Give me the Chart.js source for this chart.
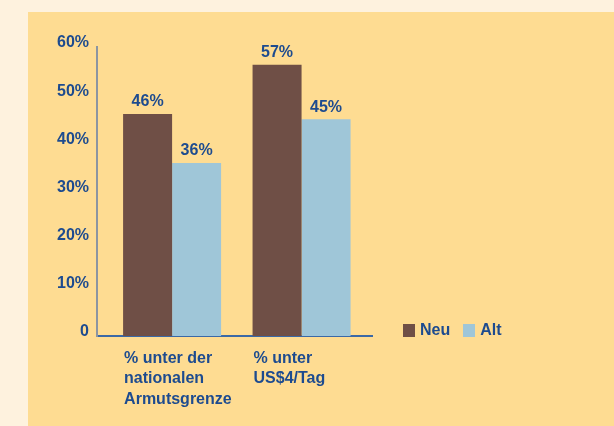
<!DOCTYPE html>
<html>
<head>
<meta charset="utf-8">
<script src="https://cdn.jsdelivr.net/npm/chart.js@4/dist/chart.umd.min.js"></script>
<style>
  html, body { margin: 0; padding: 0; background: #fef2de; }
  #wrap { position: relative; width: 614px; height: 426px; overflow: hidden; }
  #panel { position: absolute; left: 28px; top: 12px; right: 0; bottom: 0; background: #fedc92; }
  #myChart { position: absolute; left: 0; top: 0; }
  #legend { position: absolute; left: 403px; top: 321px; display: flex; }
  #legend span.item { display: flex; align-items: center; margin-right: 13px;
    font: bold 16px "Liberation Sans", sans-serif; color: #1d4b8f; }
  #legend span.box { display: inline-block; width: 12px; height: 13px; margin-right: 5px; }
</style>
</head>
<body>
<div id="wrap">
  <div id="panel"></div>
  <canvas id="myChart" width="614" height="426"></canvas>
  <div id="legend"></div>
</div>
<script>
var categories = [
    ['% unter der', 'nationalen', 'Armutsgrenze'],
    ['% unter', 'US$4/Tag']
];
var seriesNames = ['Neu', 'Alt'];
var neuValues = [46.1, 56.3];
var altValues = [35.9, 45.0];
var neuLabels = ['46%', '57%'];
var altLabels = ['36%', '45%'];
var yTicks = [0, 10, 20, 30, 40, 50, 60];

var textBlue = '#1d4b8f';
var fontFamily = '"Liberation Sans", sans-serif';

// draws the value above each bar
var valueLabels = {
    id: 'valueLabels',
    afterDatasetsDraw: function(chart) {
        var ctx = chart.ctx;
        ctx.save();
        ctx.font = 'bold 16px ' + fontFamily;
        ctx.fillStyle = textBlue;
        ctx.textAlign = 'center';
        ctx.textBaseline = 'bottom';
        chart.data.datasets.forEach(function(ds, i) {
            chart.getDatasetMeta(i).data.forEach(function(bar, j) {
                ctx.fillText(ds.valueText[j], bar.x, bar.y - 4);
            });
        });
        ctx.restore();
    }
};

var ctx = document.getElementById('myChart').getContext('2d');
var chart = new Chart(ctx, {
    type: 'bar',
    data: {
        labels: categories,
        datasets: [{
            label: seriesNames[0],
            backgroundColor: '#6f4f46',
            data: neuValues,
            valueText: neuLabels
        }, {
            label: seriesNames[1],
            backgroundColor: '#9fc6d8',
            data: altValues,
            valueText: altLabels
        }]
    },
    options: {
        responsive: false,
        animation: false,
        layout: {
            padding: { left: 0, top: 47, right: 242, bottom: 0 }
        },
        datasets: {
            bar: { categoryPercentage: 0.757, barPercentage: 1 }
        },
        scales: {
            x: {
                grid: { display: false },
                border: { display: true, color: '#3b69a6', width: 2 },
                // the groups sit a bit right of centre, axis runs on past the last one
                afterBuildTicks: function(scale) {
                    scale._startValue = -0.58;
                    scale._valueRange = 2.124;
                },
                ticks: {
                    color: textBlue,
                    font: { family: fontFamily, size: 16, weight: 'bold', lineHeight: 1.28 },
                    align: 'start',
                    labelOffset: -48,
                    padding: 4,
                    maxRotation: 0,
                    autoSkip: false
                },
                afterFit: function(scale) { scale.height = 90; }
            },
            y: {
                min: 0,
                max: 60,
                grid: { display: false },
                border: { display: true, color: '#8c95a1', width: 2 },
                afterBuildTicks: function(scale) {
                    scale.ticks = yTicks.map(function(v) { return { value: v }; });
                },
                ticks: {
                    color: textBlue,
                    font: { family: fontFamily, size: 16, weight: 'bold' },
                    padding: 0,
                    labelOffset: -4,
                    callback: function(value) { return value === 0 ? '0' : value + '%'; }
                },
                afterFit: function(scale) { scale.width = 97; }
            }
        },
        plugins: {
            legend: { display: false },
            tooltip: { enabled: false }
        }
    },
    plugins: [valueLabels]
});

// html legend built from the chart's own legend items
var legendEl = document.getElementById('legend');
chart.options.plugins.legend.labels.generateLabels(chart).forEach(function(item) {
    var span = document.createElement('span');
    span.className = 'item';
    var box = document.createElement('span');
    box.className = 'box';
    box.style.background = item.fillStyle;
    span.appendChild(box);
    span.appendChild(document.createTextNode(item.text));
    legendEl.appendChild(span);
});
</script>
</body>
</html>
